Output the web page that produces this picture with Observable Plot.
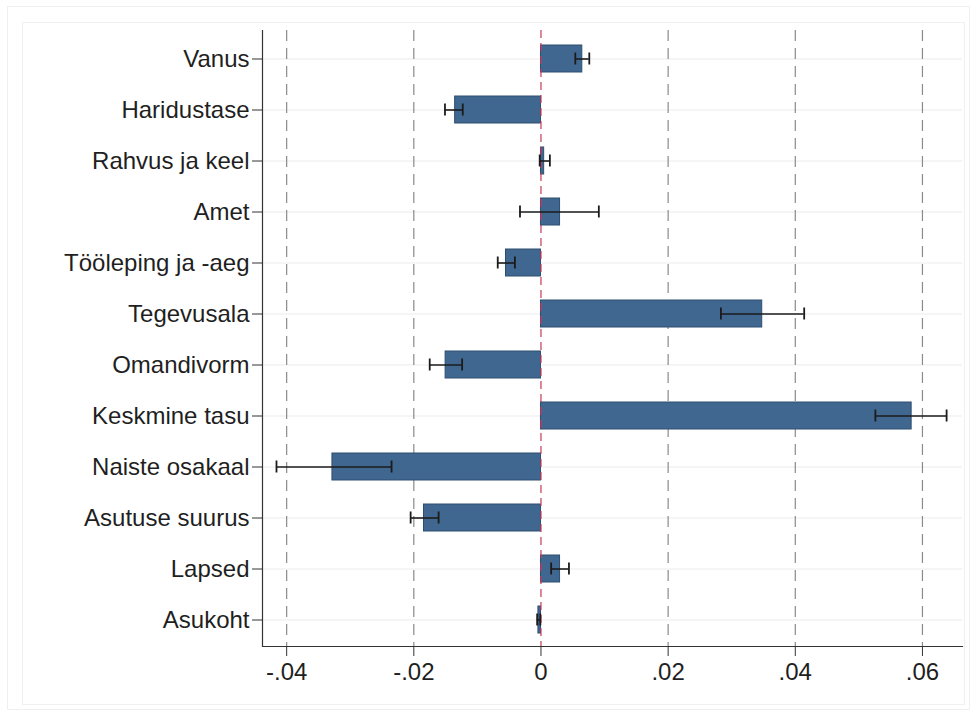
<!DOCTYPE html>
<html>
<head>
<meta charset="utf-8">
<script src="https://cdn.jsdelivr.net/npm/d3@7"></script>
<script src="https://cdn.jsdelivr.net/npm/@observablehq/plot@0.6"></script>
<style>
  html, body { margin: 0; padding: 0; background: #fff; }
  #wrap { position: relative; width: 973px; height: 713px; }
  .region { position: absolute; border: 1px solid #f0f0f0; pointer-events: none; }
  #chart svg { display: block; }
</style>
</head>
<body>
<div id="wrap">
  <div class="region" style="left:7px; top:6px; right:3px; bottom:3px;"></div>
  <div class="region" style="left:22px; top:22px; right:8px; bottom:8px;"></div>
  <div id="chart"></div>
</div>
<script>
// Decomposition components, top to bottom
const categories = [
  "Vanus", "Haridustase", "Rahvus ja keel", "Amet", "Tööleping ja -aeg",
  "Tegevusala", "Omandivorm", "Keskmine tasu", "Naiste osakaal",
  "Asutuse suurus", "Lapsed", "Asukoht"
];
// Point estimates
const estimates = [0.0065, -0.0135, 0.0005, 0.0030, -0.0055, 0.0348, -0.0150, 0.0583, -0.0328, -0.0184, 0.0030, -0.0004];
// 95% confidence interval bounds
const lower = [0.0054, -0.0151, -0.0002, -0.0033, -0.0068, 0.0283, -0.0175, 0.0526, -0.0416, -0.0205, 0.0016, -0.0006];
const upper = [0.0076, -0.0123, 0.0014, 0.0091, -0.0041, 0.0414, -0.0124, 0.0638, -0.0235, -0.0161, 0.0044, -0.0001];
// x-axis ticks
const xTicks = [-0.04, -0.02, 0, 0.02, 0.04, 0.06];
const xDomain = [-0.0438, 0.0663];

const rows = categories.map((name, i) => ({name, est: estimates[i], lo: lower[i], hi: upper[i]}));
// Stata-style tick labels: "-.04", "0", ".02"
const fmt = d => d === 0 ? "0" : (d < 0 ? "-" : "") + Math.abs(d).toFixed(2).replace(/^0/, "");

const font = "'Liberation Sans', Arial, Helvetica, sans-serif";

const chart = Plot.plot({
  width: 973,
  height: 713,
  marginLeft: 262,
  marginRight: 11,
  marginTop: 30,
  marginBottom: 67,
  style: {fontFamily: font, fontSize: "24px", color: "#1f1f1f", background: "transparent"},
  x: {domain: xDomain, ticks: xTicks, tickFormat: fmt},
  y: {domain: categories, paddingInner: 0.47, paddingOuter: 0.22, align: 0.55},
  marks: [
    // faint horizontal guides at each category
    Plot.ruleY(categories, {y: d => d, stroke: "#ebebeb", strokeWidth: 1.2}),
    // dashed vertical grid
    Plot.ruleX(xTicks.filter(d => d !== 0), {stroke: "#8a8a8a", strokeWidth: 1.2, strokeDasharray: "11,7"}),
    // bars
    Plot.barX(rows, {x1: 0, x2: "est", y: "name", fill: "#40678f", stroke: "#2e4e70", strokeWidth: 1}),
    // zero reference line
    Plot.ruleX([0], {stroke: "#c8385a", strokeWidth: 1.2, strokeDasharray: "8,5"}),
    // confidence intervals
    Plot.ruleY(rows, {y: "name", x1: "lo", x2: "hi", stroke: "#1b1b1b", strokeWidth: 1.6}),
    Plot.tickX(rows, {x: "lo", y: "name", stroke: "#1b1b1b", strokeWidth: 1.8, insetTop: 7.5, insetBottom: 7.5}),
    Plot.tickX(rows, {x: "hi", y: "name", stroke: "#1b1b1b", strokeWidth: 1.8, insetTop: 7.5, insetBottom: 7.5}),
    // axes
    Plot.axisY({tickSize: 10, tickPadding: 3, label: null, fontSize: 24, stroke: "#333"}),
    Plot.axisX({ticks: xTicks, tickFormat: fmt, tickSize: 10, tickPadding: 6, label: null, fontSize: 24, stroke: "#333"}),
    Plot.ruleX([xDomain[0]], {stroke: "#333", strokeWidth: 1.2}),
    Plot.frame({anchor: "bottom", stroke: "#333", strokeWidth: 1.2})
  ]
});

document.getElementById("chart").appendChild(chart);
</script>
</body>
</html>
